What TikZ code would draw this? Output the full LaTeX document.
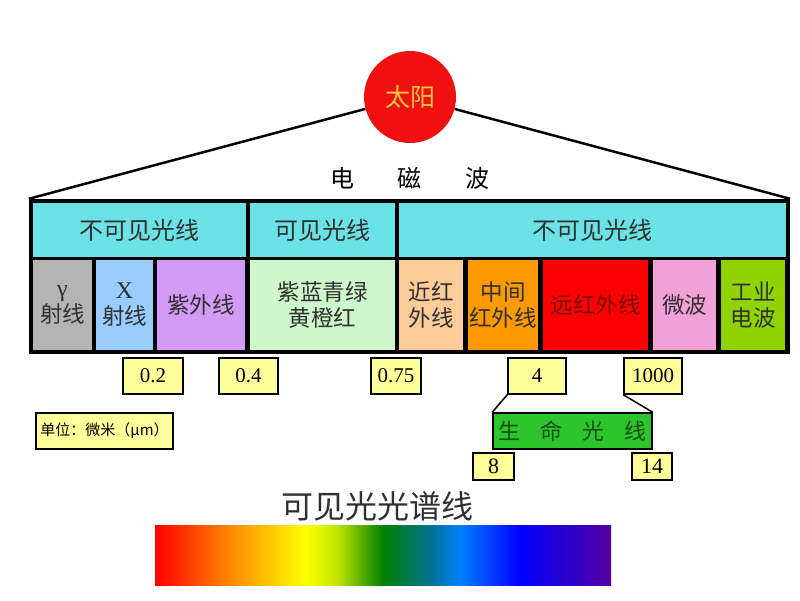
\documentclass[tikz,border=0pt]{standalone}
\usepackage{fontspec}
\setmainfont{Liberation Serif}
\newfontfamily\cjk{Noto Sans CJK SC}
\usetikzlibrary{shapes.geometric}

\definecolor{sunred}{HTML}{F01010}
\definecolor{sunyellow}{HTML}{F5C842}
\definecolor{skyc}{HTML}{6BE3E6}
\definecolor{celltext}{HTML}{303030}
\definecolor{gammac}{HTML}{B4B4B4}
\definecolor{xrayc}{HTML}{99CCFF}
\definecolor{uvc}{HTML}{D39BF5}
\definecolor{visc}{HTML}{CFF7CC}
\definecolor{nirc}{HTML}{FFCC99}
\definecolor{mirc}{HTML}{FF9900}
\definecolor{firc}{HTML}{FF0000}
\definecolor{firtext}{HTML}{7A0A0A}
\definecolor{mwc}{HTML}{F2A0D8}
\definecolor{indc}{HTML}{8FD400}
\definecolor{valyellow}{HTML}{FFFF99}
\definecolor{lifegreen}{HTML}{2EC42E}
\definecolor{lifetext}{HTML}{114F11}

\pgfdeclarehorizontalshading{spectrum}{100bp}{rgb(0bp)=(1,0,0); rgb(25bp)=(1,0,0);
  rgb(33.5bp)=(1,0.55,0); rgb(41.5bp)=(1,1,0); rgb(45bp)=(0.75,0.9,0);
  rgb(50bp)=(0,0.5,0); rgb(55bp)=(0,0.45,0.55); rgb(58.5bp)=(0,0.5,1);
  rgb(65bp)=(0,0,1); rgb(75bp)=(0.33,0,0.62); rgb(100bp)=(0.33,0,0.62)}

\begin{document}
\begin{tikzpicture}[x=1pt, y=-1pt,
  cell/.style={inner sep=0pt, align=center, text=celltext,
    font=\cjk\fontsize{22.5}{26}\selectfont},
  head/.style={cell, fill=skyc, minimum height=54pt,
    font=\cjk\fontsize{24}{28}\selectfont},
  low/.style={cell, minimum height=90pt},
  val/.style={draw=black, line width=1.5pt, fill=valyellow, inner sep=0pt,
    minimum height=36pt, font=\fontsize{21}{23}\selectfont},
  small val/.style={val, minimum height=27pt, font=\fontsize{22}{24}\selectfont}]
\useasboundingbox (0,0) rectangle (800,600);
\fill[white] (0,0) rectangle (800,600);

% the frame and the two rows
\node[fill=black, inner sep=0pt, minimum width=761pt, minimum height=155pt]
  (frame) at (409.5,276.5) {};
\node[head, minimum width=213pt] (inv1) at (139.5,230) {不可见光线};
\node[head, minimum width=145pt] (vis) at (322.5,230) {可见光线};
\node[head, minimum width=387pt] (inv2) at (592.5,230) {不可见光线};

\node[low, fill=gammac, minimum width=59pt] (gamma) at (62.5,305)
  {\textrm{\fontsize{24}{26}\selectfont γ}\\射线};
\node[low, fill=xrayc, minimum width=57pt] (xray) at (124.5,305)
  {\textrm{\fontsize{24}{26}\selectfont X}\\射线};
\node[low, fill=uvc, minimum width=88pt] (uv) at (201,305) {紫外线};
\node[low, fill=visc, minimum width=145pt] (colors) at (322.5,305) {紫蓝青绿\\黄橙红};
\node[low, fill=nirc, minimum width=64pt] (nir) at (431,305) {近红\\外线};
\node[low, fill=mirc, minimum width=70pt] (mir) at (503,305) {中间\\红外线};
\node[low, fill=firc, minimum width=105pt, text=firtext] (fir) at (595.5,305) {远红外线};
\node[low, fill=mwc, minimum width=63pt] (mw) at (684.5,305) {微波};
\node[low, fill=indc, minimum width=64pt] (ind) at (753,305) {工业\\电波};

% sun on top
\node[circle, fill=sunred, minimum size=92pt, inner sep=0pt, text=sunyellow,
  font=\cjk\fontsize{25}{28}\selectfont] (sun) at (410,97) {太阳};
\draw[line width=2.5pt] (sun) -- (frame.north west);
\draw[line width=2.5pt] (sun) -- (frame.north east);
\node[font=\cjk\fontsize{24}{28}\selectfont] (emwave) at (410,178)
  {电\hspace{44pt}磁\hspace{44pt}波};

% wavelengths
\node[val, minimum width=60pt] (v02) at (153,376) {0.2};
\node[val, minimum width=59pt] (v04) at (248.5,376) {0.4};
\node[val, minimum width=50pt] (v075) at (396,376) {0.75};
\node[val, minimum width=58pt] (v4) at (537,376) {4};
\node[val, minimum width=58pt] (v1000) at (653,376) {1000};
\node[val, minimum width=137pt, font=\cjk\fontsize{15}{18}\selectfont]
  (unit) at (104.5,431) {单位：微米（μm）};

\node[val, fill=lifegreen, minimum width=159pt, text=lifetext,
  font=\cjk\fontsize{22}{25}\selectfont] (life) at (572.5,431)
  {生\hspace{20pt}命\hspace{20pt}光\hspace{20pt}线};
\draw[line width=1.5pt] (v4.south west) -- (life.north west);
\draw[line width=1.5pt] (v1000.south west) -- (life.north east);
\node[small val, minimum width=41pt] (v8) at (493.5,466.5) {8};
\node[small val, minimum width=40pt] (v14) at (652,466.5) {14};

% spectrum
\node[font=\cjk\fontsize{32}{36}\selectfont, text=celltext] (spectitle)
  at (377,506) {可见光光谱线};
\shade[shading=spectrum] (155,525) rectangle (611,585);
\end{tikzpicture}
\end{document}
